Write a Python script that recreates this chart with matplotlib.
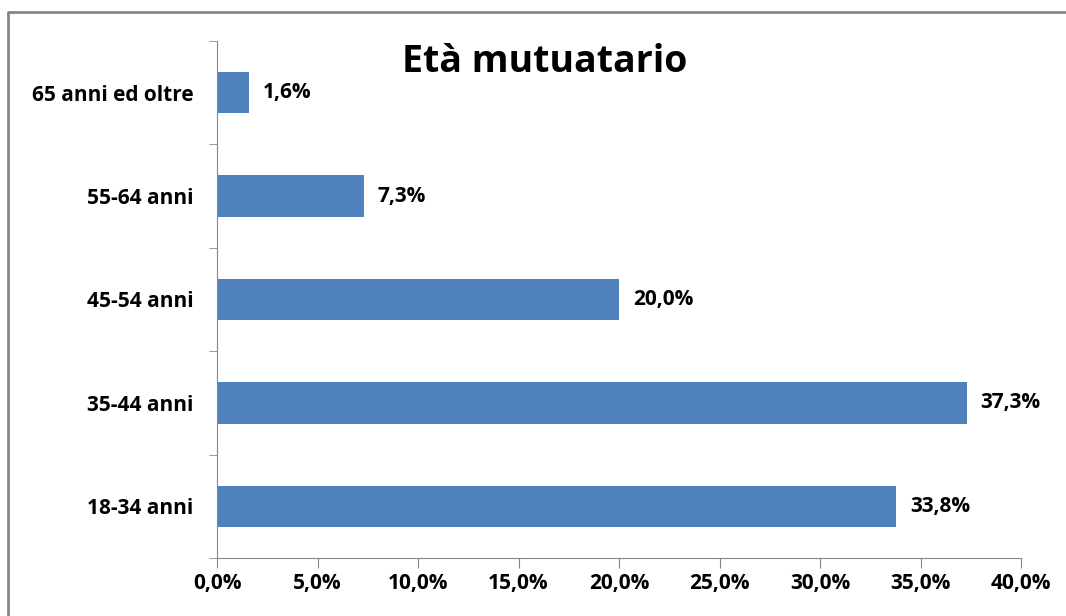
import matplotlib.pyplot as plt
from matplotlib.lines import Line2D
import numpy as np

# età del mutuatario, quote percentuali
categories = ['18-34 anni', '35-44 anni', '45-54 anni', '55-64 anni', '65 anni ed oltre']
shares = [33.8, 37.3, 20.0, 7.3, 1.6]
xticks = [0, 5, 10, 15, 20, 25, 30, 35, 40]

plt.rcParams['font.family'] = ['Open Sans', 'DejaVu Sans']
plt.rcParams['font.weight'] = 'bold'

grey = '#868686'
fig = plt.figure(figsize=(10.66, 6.16), dpi=100)
ax = fig.add_axes([0.2036, 0.0942, 0.7542, 0.8392])

pos = np.arange(len(categories))
ax.barh(pos, shares, height=0.4, color='#4F81BD')
for p, v in zip(pos, shares):
    ax.annotate(f'{v:.1f}%'.replace('.', ','), (v, p), xytext=(10, 0),
                textcoords='offset points', va='center', ha='left',
                fontsize=15, fontweight='bold')

ax.set_xlim(0, 40)
ax.set_ylim(-0.5, len(categories) - 0.5)
ax.set_xticks(xticks)
ax.set_xticklabels([f'{t:.1f}%'.replace('.', ',') for t in xticks], fontsize=15, fontweight='bold')
ax.set_yticks(pos)
ax.set_yticklabels(categories, fontsize=15, fontweight='bold')
ax.set_yticks(np.arange(-0.5, len(categories)), minor=True)
ax.tick_params(axis='y', which='major', length=0, pad=17)
ax.tick_params(axis='y', which='minor', length=6, color=grey, direction='out')
ax.tick_params(axis='x', length=7, color=grey, direction='out', pad=4)

for s in ['top', 'right']:
    ax.spines[s].set_visible(False)
for s in ['left', 'bottom']:
    ax.spines[s].set_color(grey)

fig.text(0.511, 0.899, 'Età mutuatario', ha='center', va='center',
         fontsize=27, fontweight='bold')

# cornice del grafico (bordo sinistro e superiore)
fig.add_artist(Line2D([0.0075, 0.0075, 1.0], [0.0, 0.981, 0.981],
                      transform=fig.transFigure, color=grey, lw=2))

fig.savefig('out.png', dpi=100)
